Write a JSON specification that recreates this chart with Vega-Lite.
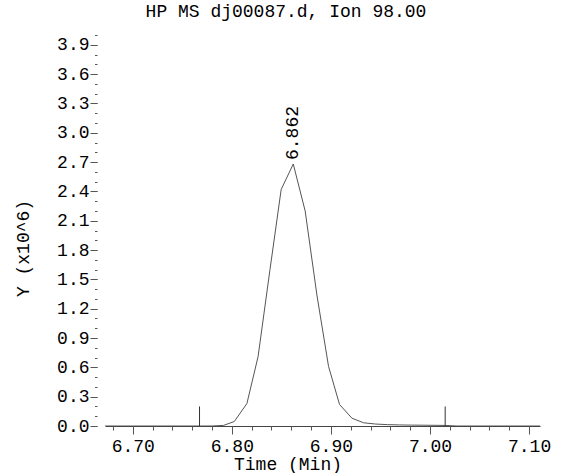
{
  "$schema": "https://vega.github.io/schema/vega-lite/v6.json",
  "autosize": "none",
  "width": 435,
  "height": 391,
  "padding": {"left": 105, "top": 35, "right": 24, "bottom": 47},
  "background": "white",
  "config": {
    "font": "Liberation Mono",
    "view": {"stroke": null},
    "axis": {"grid": false, "labelFont": "Liberation Mono", "titleFont": "Liberation Mono", "labelFontSize": 18, "titleFontSize": 18, "titleFontWeight": "normal", "labelColor": "#000", "titleColor": "#000", "tickColor": "#555", "domainColor": "#444"}
  },
  "title": {"text": "HP MS dj00087.d, Ion 98.00", "frame": "group", "anchor": "middle", "dx": -36.5, "baseline": "alphabetic", "offset": 0, "fontSize": 18, "fontWeight": "normal", "font": "Liberation Mono", "color": "#000"},
  "datasets": {
    "trace": [
      {"t": 6.672, "v": 0},
      {"t": 6.700, "v": 0},
      {"t": 6.730, "v": 0},
      {"t": 6.760, "v": 0},
      {"t": 6.780, "v": 0},
      {"t": 6.7916, "v": 0.006},
      {"t": 6.8025, "v": 0.046},
      {"t": 6.8152, "v": 0.23},
      {"t": 6.8265, "v": 0.71},
      {"t": 6.8385, "v": 1.6},
      {"t": 6.8498, "v": 2.42},
      {"t": 6.862, "v": 2.68},
      {"t": 6.874, "v": 2.2},
      {"t": 6.886, "v": 1.33},
      {"t": 6.8976, "v": 0.61},
      {"t": 6.9087, "v": 0.22},
      {"t": 6.9212, "v": 0.08},
      {"t": 6.9329, "v": 0.033},
      {"t": 6.945, "v": 0.02},
      {"t": 6.957, "v": 0.014},
      {"t": 6.969, "v": 0.011},
      {"t": 6.981, "v": 0.009},
      {"t": 6.993, "v": 0.008},
      {"t": 7.005, "v": 0.007},
      {"t": 7.0153, "v": 0.006},
      {"t": 7.027, "v": 0},
      {"t": 7.111, "v": 0}
    ],
    "markers": [
      {"t": 6.7674, "lo": 0, "hi": 0.2},
      {"t": 7.0153, "lo": 0, "hi": 0.2}
    ],
    "peak": [
      {"t": 6.862, "v": 2.68, "label": "6.862"}
    ]
  },
  "resolve": {"axis": {"x": "independent", "y": "independent"}},
  "layer": [
    {
      "data": {"name": "trace"},
      "mark": {"type": "line", "color": "#555", "strokeWidth": 1, "clip": true},
      "encoding": {
        "x": {"field": "t", "type": "quantitative", "scale": {"domain": [6.672, 7.111], "nice": false, "zero": false},
              "axis": {"orient": "bottom", "values": [6.7, 6.8, 6.9, 7.0, 7.1], "format": ".2f", "tickSize": 8, "labelPadding": 3.5, "domain": true, "title": "Time (Min)", "titleX": 182.5, "titleY": 43, "titleAlign": "center", "titleBaseline": "alphabetic", "titleAnchor": null, "labelFlush": false}},
        "y": {"field": "v", "type": "quantitative", "scale": {"domain": [0, 4.0], "nice": false},
              "axis": {"orient": "left", "values": [0, 0.3, 0.6, 0.9, 1.2, 1.5, 1.8, 2.1, 2.4, 2.7, 3.0, 3.3, 3.6, 3.9], "format": ".1f", "tickSize": 7, "labelPadding": 1, "offset": 8, "domain": false, "title": "Y (x10^6)", "titleX": -74, "titleY": 213, "titleAngle": 270, "titleAlign": "center", "titleBaseline": "middle", "titleAnchor": null, "labelFlush": false}}
      }
    },
    {
      "data": {"name": "markers"},
      "mark": {"type": "rule", "color": "#333", "strokeWidth": 1},
      "encoding": {
        "x": {"field": "t", "type": "quantitative",
              "axis": {"orient": "bottom", "values": [6.68, 6.7, 6.72, 6.74, 6.76, 6.78, 6.8, 6.82, 6.84, 6.86, 6.88, 6.9, 6.92, 6.94, 6.96, 6.98, 7.0, 7.02, 7.04, 7.06, 7.08, 7.1], "tickSize": 4, "labels": false, "domain": false, "title": null}},
        "y": {"field": "lo", "type": "quantitative",
              "axis": {"orient": "left", "values": [0, 0.1, 0.2, 0.3, 0.4, 0.5, 0.6, 0.7, 0.8, 0.9, 1.0, 1.1, 1.2, 1.3, 1.4, 1.5, 1.6, 1.7, 1.8, 1.9, 2.0, 2.1, 2.2, 2.3, 2.4, 2.5, 2.6, 2.7, 2.8, 2.9, 3.0, 3.1, 3.2, 3.3, 3.4, 3.5, 3.6, 3.7, 3.8, 3.9, 4.0], "tickSize": 2.5, "offset": 8, "labels": false, "domain": false, "title": null}},
        "y2": {"field": "hi"}
      }
    },
    {
      "data": {"name": "peak"},
      "mark": {"type": "text", "angle": 270, "align": "left", "baseline": "middle", "dx": 4, "fontSize": 18, "font": "Liberation Mono", "color": "#000"},
      "encoding": {
        "x": {"field": "t", "type": "quantitative", "axis": null},
        "y": {"field": "v", "type": "quantitative", "axis": null},
        "text": {"field": "label", "type": "nominal"}
      }
    }
  ]
}
